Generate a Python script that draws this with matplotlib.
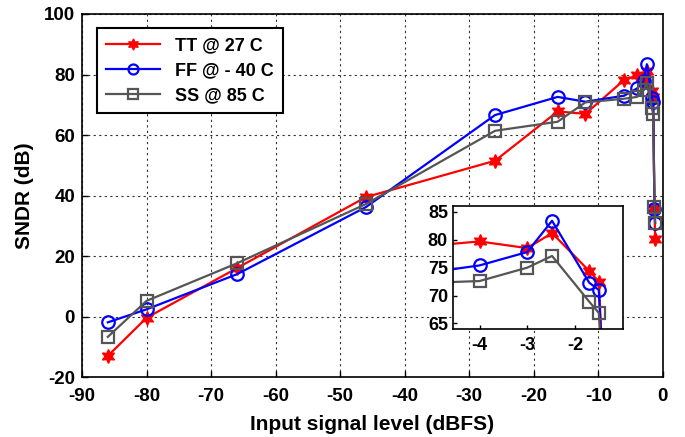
import numpy as np
import matplotlib
matplotlib.use('Agg')
import matplotlib.pyplot as plt

plt.rcParams['font.family'] = ['Liberation Sans', 'DejaVu Sans']
plt.rcParams['font.weight'] = 'bold'
plt.rcParams['axes.unicode_minus'] = False

# Datos
input_level = [-86, -80, -66, -46, -26, -16.3, -12, -6, -4, -3, -2.48, -1.7, -1.5, -1.3, -1.2]
sndr_tt = [-13, -0.4, 16, 39.5, 51.5, 67.8, 67, 78.2, 79.7, 78.5, 81.2, 74.4, 72.5, 36, 25.5]
sndr_ff = [-1.9, 2.4, 14, 36.2, 66.6, 72.6, 71, 73, 75.4, 77.8, 83.4, 72.3, 71.0, 35.5, 31]
sndr_ss = [-6.7, 5.2, 17.6, 37.2, 61.4, 64.4, 70.8, 72, 72.6, 75.0, 77.1, 68.9, 66.9, 36.3, 31]
labels = ['TT @ 27 C', 'FF @ - 40 C', 'SS @ 85 C']

gray = '#555555'
styles = [
    dict(color='red', marker=(6, 1, 0), markersize=10, markerfacecolor='red', markeredgewidth=1.0),
    dict(color='blue', marker='o', markersize=9, markerfacecolor='none', markeredgewidth=1.6),
    dict(color=gray, marker='s', markersize=9, markerfacecolor='none', markeredgewidth=1.6),
]
series = [sndr_tt, sndr_ff, sndr_ss]

fig = plt.figure(figsize=(6.85, 4.37), dpi=100)
ax = fig.add_axes([0.1197, 0.137, 0.848, 0.831])

for y, lab, st in zip(series, labels, styles):
    ax.plot(input_level, y, lw=1.6, label=lab, **st)

ax.set_xlim(-90, 0)
ax.set_ylim(-20, 100)
ax.set_xticks(np.arange(-90, 1, 10))
ax.set_yticks(np.arange(-20, 101, 20))
ax.grid(True, color='#333333', linestyle=(0, (2, 3)), linewidth=0.8)
ax.tick_params(direction='in', labelsize=13.5, length=4, width=1)
ax.tick_params(axis='x', pad=8)
ax.tick_params(axis='y', pad=5)
for s in ax.spines.values():
    s.set_linewidth(1.2)
ax.set_xlabel('Input signal level (dBFS)', fontsize=15, fontweight='bold', labelpad=7)
ax.set_ylabel('SNDR (dB)', fontsize=15, fontweight='bold', labelpad=7)

leg = ax.legend(loc='upper left', bbox_to_anchor=(0.026, 0.961), fontsize=13,
                fancybox=False, framealpha=1, edgecolor='black', borderaxespad=0,
                handlelength=3.0, labelspacing=0.45, borderpad=0.5, markerscale=0.8)
leg.get_frame().set_linewidth(1.5)

# Recuadro ampliado
axin = fig.add_axes([0.661, 0.247, 0.248, 0.281])
for y, st in zip(series, styles):
    axin.plot(input_level, y, lw=1.6, **st)
axin.set_xlim(-4.56, -1.0)
axin.set_ylim(64, 86)
axin.set_xticks([-4, -3, -2])
axin.set_yticks([65, 70, 75, 80, 85])
axin.tick_params(direction='in', labelsize=13, length=3, width=1)
axin.tick_params(axis='x', pad=6)
for s in axin.spines.values():
    s.set_linewidth(1.2)

fig.savefig('out.png', dpi=100)
